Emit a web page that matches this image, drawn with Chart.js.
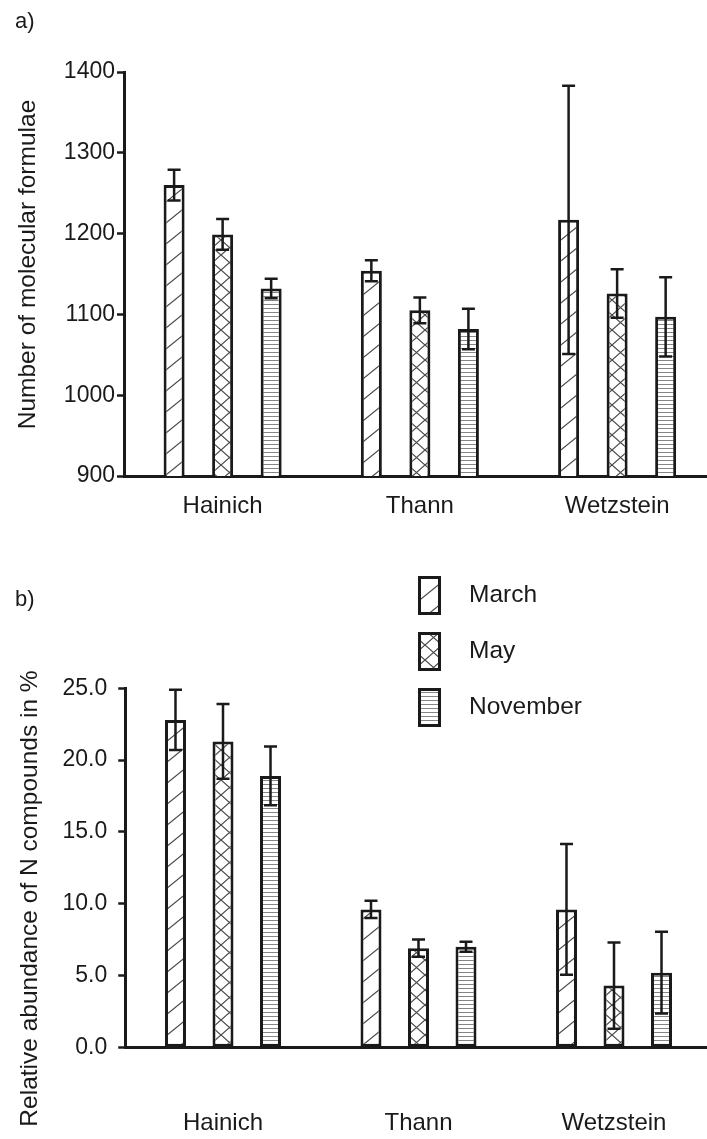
<!DOCTYPE html>
<html>
<head>
<meta charset="utf-8">
<script src="https://cdn.jsdelivr.net/npm/chart.js@4.4.1/dist/chart.umd.min.js"></script>
<style>
  html, body { margin: 0; padding: 0; background: #fff; overflow: hidden; width: 707px; height: 1139px; }
  .panel { position: absolute; left: 0; width: 720px; }
  #wrapA { top: 0; height: 540px; }
  #wrapB { top: 540px; height: 599px; }
  canvas { display: block; }
</style>
</head>
<body>
<div class="panel" id="wrapA"><canvas id="chartA" width="720" height="540"></canvas></div>
<div class="panel" id="wrapB"><canvas id="chartB" width="720" height="599"></canvas></div>
<script>
// Sampling sites and months
const sites = ['Hainich', 'Thann', 'Wetzstein'];
const months = ['March', 'May', 'November'];

// a) Number of molecular formulae (mean and error)
const formulaeMarch = [1260, 1154, 1217];
const formulaeMay = [1199, 1105, 1126];
const formulaeNovember = [1132, 1082, 1097];
const formulaeMarchErr = [19, 13, 166];
const formulaeMayErr = [19, 16, 30];
const formulaeNovemberErr = [12, 25, 49];
const formulaeTicks = [900, 1000, 1100, 1200, 1300, 1400];

// b) Relative abundance of N compounds in % (mean and error)
const nMarch = [22.8, 9.6, 9.6];
const nMay = [21.3, 6.9, 4.3];
const nNovember = [18.9, 7.0, 5.2];
const nMarchErr = [2.1, 0.6, 4.55];
const nMayErr = [2.6, 0.6, 3.0];
const nNovemberErr = [2.05, 0.35, 2.85];
const nTicks = [0, 5, 10, 15, 20, 25];

const INK = '#1a1a1a';
const FONT = "'Liberation Sans', Arial, Helvetica, sans-serif";

// Fill patterns for the three months
function makePattern(kind) {
  const c = document.createElement('canvas');
  let w, h;
  if (kind === 'diag') { w = 26; h = 21; }
  else if (kind === 'cross') { w = 17; h = 15; }
  else { w = 4; h = 4; }
  c.width = w; c.height = h;
  const g = c.getContext('2d');
  g.fillStyle = '#fff';
  g.fillRect(0, 0, w, h);
  if (kind === 'horiz') {
    g.fillStyle = '#858585';
    g.fillRect(0, 0, w, 1);
  } else {
    g.strokeStyle = '#4a4a4a';
    g.lineWidth = 1.2;
    g.beginPath();
    if (kind === 'diag') {
      g.moveTo(0, h); g.lineTo(w, 0);
      g.moveTo(-w, h); g.lineTo(w, -h);
      g.moveTo(0, 2 * h); g.lineTo(2 * w, 0);
    } else {
      g.moveTo(0, 0); g.lineTo(w, h);
      g.moveTo(0, h); g.lineTo(w, 0);
      g.moveTo(-w, 0); g.lineTo(w, 2 * h);
      g.moveTo(0, -h); g.lineTo(2 * w, h);
      g.moveTo(-w, h); g.lineTo(w, -h);
      g.moveTo(0, 2 * h); g.lineTo(2 * w, 0);
    }
    g.stroke();
  }
  return g.createPattern(c, 'repeat');
}
const fills = [makePattern('diag'), makePattern('cross'), makePattern('horiz')];

// Error bars drawn from each dataset's `errors` array via the y scale
const errorBars = {
  id: 'errorBars',
  afterDatasetsDraw(chart, args, opts) {
    const { ctx } = chart;
    const yScale = chart.scales.y;
    ctx.save();
    ctx.strokeStyle = opts.color;
    ctx.lineWidth = opts.width;
    chart.data.datasets.forEach((ds, di) => {
      const meta = chart.getDatasetMeta(di);
      meta.data.forEach((bar, i) => {
        const v = ds.data[i], e = ds.errors[i];
        const yt = yScale.getPixelForValue(v + e);
        const yb = yScale.getPixelForValue(v - e);
        const x = bar.x, hw = opts.cap / 2;
        ctx.beginPath();
        ctx.moveTo(x, yt); ctx.lineTo(x, yb);
        ctx.moveTo(x - hw, yt); ctx.lineTo(x + hw, yt);
        ctx.moveTo(x - hw, yb); ctx.lineTo(x + hw, yb);
        ctx.stroke();
      });
    });
    ctx.restore();
  }
};

// Panel tag and rotated y-axis title
const panelText = {
  id: 'panelText',
  afterDraw(chart, args, o) {
    const { ctx, chartArea } = chart;
    ctx.save();
    ctx.fillStyle = INK;
    ctx.textBaseline = 'middle';
    ctx.textAlign = 'left';
    ctx.font = `${o.tagSize}px ${FONT}`;
    ctx.fillText(o.tag, o.tagX, o.tagY);
    ctx.translate(o.titleX, (chartArea.top + chartArea.bottom) / 2 + o.titleShift);
    ctx.rotate(-Math.PI / 2);
    ctx.textAlign = 'center';
    ctx.font = `${o.titleSize}px ${FONT}`;
    ctx.fillText(o.title, 0, 0);
    ctx.restore();
  }
};

// Month legend with patterned swatches
const monthLegend = {
  id: 'monthLegend',
  afterDraw(chart, args, o) {
    if (!o.show) return;
    const { ctx } = chart;
    ctx.save();
    chart.data.datasets.forEach((ds, i) => {
      const top = o.y + i * o.step;
      ctx.fillStyle = ds.backgroundColor;
      ctx.fillRect(o.x, top, o.boxW, o.boxH);
      ctx.strokeStyle = INK;
      ctx.lineWidth = o.lineWidth;
      ctx.strokeRect(o.x + o.lineWidth / 2, top + o.lineWidth / 2, o.boxW - o.lineWidth, o.boxH - o.lineWidth);
      ctx.fillStyle = INK;
      ctx.font = `${o.fontSize}px ${FONT}`;
      ctx.textBaseline = 'middle';
      ctx.textAlign = 'left';
      ctx.fillText(ds.label, o.textX, top + o.boxH / 2);
    });
    ctx.restore();
  }
};

function buildChart(id, p) {
  const datasets = p.series.map((vals, i) => ({
    label: months[i],
    data: vals,
    errors: p.errors[i],
    backgroundColor: fills[i],
    borderColor: INK,
    borderWidth: 3,
    borderSkipped: false,
    categoryPercentage: p.catPct,
    barPercentage: p.barPct
  }));
  return new Chart(document.getElementById(id), {
    type: 'bar',
    data: { labels: sites, datasets },
    options: {
      responsive: false,
      animation: false,
      events: [],
      layout: { padding: p.padding },
      scales: {
        x: {
          type: 'category',
          offset: true,
          // hidden tick marks; their length sets the gap above the site names
          grid: { display: false, drawTicks: true, tickLength: p.xGap },
          border: { display: true, color: INK, width: 3 },
          ticks: { color: INK, font: { family: FONT, size: 24 }, padding: 0 },
          afterFit(s) { s.height = p.xHeight; }
        },
        y: {
          min: p.ticks[0],
          max: p.ticks[p.ticks.length - 1],
          afterBuildTicks(s) { s.ticks = p.ticks.map(v => ({ value: v })); },
          ticks: { color: INK, font: { family: FONT, size: 23 }, padding: p.yPad, callback: p.fmt },
          grid: { drawOnChartArea: false, drawTicks: true, tickLength: 7, tickWidth: 2.5, tickColor: INK },
          border: { display: true, color: INK, width: 3 },
          afterFit(s) { s.width = p.yWidth; }
        }
      },
      plugins: {
        legend: { display: false },
        tooltip: { enabled: false },
        errorBars: { color: INK, width: 2.5, cap: 13 },
        panelText: p.text,
        monthLegend: p.legend
      }
    },
    plugins: [errorBars, panelText, monthLegend]
  });
}

buildChart('chartA', {
  series: [formulaeMarch, formulaeMay, formulaeNovember],
  errors: [formulaeMarchErr, formulaeMayErr, formulaeNovemberErr],
  ticks: formulaeTicks,
  fmt: v => String(v),
  catPct: 0.738, barPct: 0.433,
  padding: { top: 72, right: 4.25, bottom: 0, left: 0 },
  xHeight: 64, yWidth: 124, xGap: 16, yPad: 2,
  text: { tag: 'a)', tagX: 15, tagY: 22, tagSize: 22,
          title: 'Number of molecular formulae', titleX: 28, titleShift: -9.5, titleSize: 24.5 },
  legend: { show: false }
});

buildChart('chartB', {
  series: [nMarch, nMay, nNovember],
  errors: [nMarchErr, nMayErr, nNovemberErr],
  ticks: nTicks,
  fmt: v => v.toFixed(1),
  catPct: 0.729, barPct: 0.442,
  padding: { top: 148.3, right: 8.25, bottom: 0, left: 0 },
  xHeight: 91.7, yWidth: 125.25, xGap: 62, yPad: 11,
  text: { tag: 'b)', tagX: 15, tagY: 60, tagSize: 22,
          title: 'Relative abundance of N compounds in %', titleX: 30, titleShift: 30.7, titleSize: 24.5 },
  legend: { show: true, x: 418, y: 36, boxW: 23, boxH: 39, step: 56, lineWidth: 3, textX: 469, fontSize: 24.5 }
});
</script>
</body>
</html>
